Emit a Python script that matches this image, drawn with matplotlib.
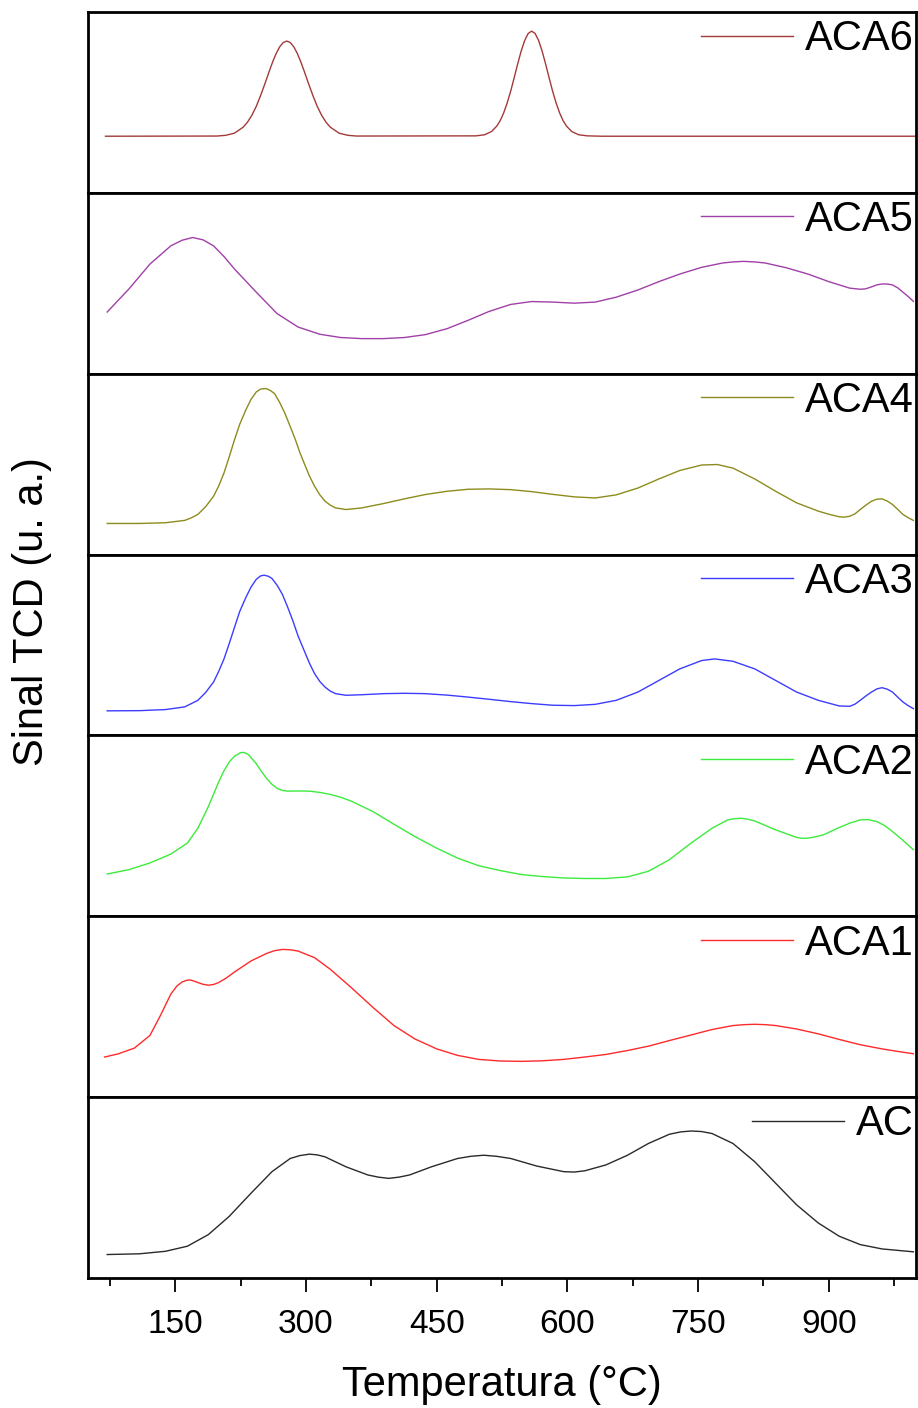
import matplotlib
matplotlib.use("Agg")
import matplotlib.pyplot as plt
from matplotlib.ticker import MultipleLocator

plt.rcParams['font.family'] = ['Liberation Sans', 'DejaVu Sans']

# TPR profiles (arbitrary units), one panel per sample, top to bottom
t_aca6 = [70, 198, 208, 218, 228, 233, 238, 243, 248, 253, 258, 262, 266, 270, 274, 278, 282, 286, 290, 294,
          298, 303, 308, 313, 318, 323, 328, 338, 348, 358,
          495, 505, 513, 519, 523, 527, 531, 535, 539, 543, 547, 551, 555, 559, 563, 567, 571, 575, 579, 583,
          587, 591, 595, 599, 605, 613, 623, 640, 1000]
s_aca6 = [31.3, 31.4, 31.8, 33.0, 36.3, 39.1, 42.9, 47.8, 53.8, 60.4, 67.3, 72.6, 77.2, 80.8, 83.1, 83.9, 83.1, 80.8, 77.2, 72.6,
          67.3, 60.4, 53.8, 47.8, 42.9, 39.1, 36.3, 33.0, 31.8, 31.4,
          31.5, 32.1, 33.9, 36.9, 40.0, 44.3, 49.8, 56.3, 63.7, 71.3, 78.4, 84.2, 88.1, 89.4, 88.1, 84.2, 78.4, 71.3, 63.7, 56.3,
          49.8, 44.3, 40.0, 36.9, 33.9, 32.1, 31.5, 31.3, 31.3]

t_aca5 = [72, 97, 121, 145, 158, 170, 182, 194, 206, 218, 243, 267, 291, 316, 340, 364, 389, 413, 437, 462,
          486, 510, 535, 559, 583, 608, 632, 656, 681, 705, 729, 754, 778, 790, 802, 815, 827, 851, 876, 900,
          924, 936, 942, 949, 955, 961, 967, 973, 979, 985, 991, 997]
s_aca5 = [34.1, 46.9, 60.6, 70.7, 73.8, 75.3, 74.0, 70.7, 64.8, 57.9, 45.1, 33.2, 25.8, 21.8, 20.0, 19.4, 19.4, 20.0, 21.6, 24.9,
          29.5, 34.4, 38.3, 39.9, 39.6, 39.0, 39.6, 42.3, 46.3, 50.9, 55.1, 58.8, 61.2, 61.8, 62.1, 61.8, 61.2, 58.6, 55.1, 50.9,
          47.3, 46.7, 46.9, 48.0, 49.1, 49.6, 49.6, 49.1, 47.5, 45.1, 42.7, 40.0]

t_aca4 = [72, 109, 139, 161, 168, 176, 185, 194, 200, 206, 212, 218, 224, 231, 237, 243, 248, 254, 259, 264,
          270, 276, 282, 288, 293, 298, 304, 310, 316, 322, 328, 334, 346, 364, 389, 413, 437, 462, 486, 510,
          535, 559, 583, 608, 632, 656, 681, 705, 729, 754, 772, 790, 815, 839, 863, 888, 900, 912, 918, 924,
          930, 936, 943, 949, 955, 961, 967, 973, 979, 985, 991, 997]
s_aca4 = [17.2, 17.2, 17.6, 18.9, 20.2, 22.2, 26.5, 32.2, 38.0, 45.1, 54.0, 63.4, 72.0, 79.9, 85.8, 89.9, 91.5, 91.8, 90.8, 89.0,
          84.0, 78.0, 70.8, 63.4, 56.5, 50.5, 43.5, 37.7, 33.0, 29.5, 27.3, 25.8, 24.9, 25.8, 28.2, 30.8, 33.2, 35.0, 36.1, 36.3,
          35.9, 34.8, 33.3, 31.9, 31.3, 33.0, 36.8, 41.8, 46.5, 49.5, 49.8, 47.8, 41.8, 35.0, 28.6, 24.0, 22.3, 20.9, 20.7, 21.2,
          22.5, 24.9, 27.5, 29.5, 30.6, 30.8, 29.6, 27.7, 25.0, 22.2, 20.4, 18.9]

t_aca3 = [72, 109, 139, 161, 176, 185, 194, 200, 206, 212, 218, 224, 231, 237, 243, 248, 252, 257, 261, 267,
          273, 279, 285, 291, 298, 304, 310, 316, 322, 328, 334, 346, 364, 389, 413, 437, 462, 486, 510, 535,
          559, 583, 608, 632, 656, 681, 705, 729, 754, 769, 790, 815, 839, 863, 888, 912, 924, 930, 936, 943,
          949, 955, 961, 967, 973, 979, 985, 991, 997]
s_aca3 = [13.6, 13.7, 14.3, 15.8, 19.4, 23.8, 29.5, 35.5, 42.3, 50.8, 59.7, 68.5, 76.2, 82.0, 86.3, 88.2, 88.6, 88.0, 86.8, 83.0,
          78.0, 71.0, 63.4, 55.0, 46.9, 40.0, 34.1, 29.8, 26.7, 24.5, 23.1, 22.2, 22.5, 23.1, 23.3, 23.1, 22.3, 21.2, 20.0, 18.7,
          17.6, 16.7, 16.5, 17.2, 19.4, 24.0, 30.4, 36.8, 41.4, 42.3, 41.0, 36.8, 30.4, 24.0, 19.4, 16.3, 16.1, 17.3, 19.4, 22.0,
          24.0, 25.7, 26.4, 25.6, 24.0, 21.2, 18.5, 16.5, 14.8]

t_aca2 = [72, 97, 121, 145, 164, 176, 188, 200, 206, 212, 218, 225, 229, 234, 238, 243, 249, 255, 261, 267,
          273, 279, 291, 304, 316, 328, 340, 352, 377, 401, 425, 450, 474, 498, 523, 547, 571, 596, 620, 644,
          669, 693, 717, 742, 766, 784, 792, 800, 807, 815, 839, 863, 870, 876, 885, 894, 912, 924, 936, 945,
          955, 964, 973, 985, 997]
s_aca2 = [23.4, 25.8, 29.5, 34.4, 40.5, 48.7, 60.6, 74.4, 80.5, 85.3, 88.5, 90.5, 90.6, 89.4, 87.2, 84.4, 80.0, 76.2, 73.0, 70.7,
          69.6, 69.2, 69.3, 69.2, 68.5, 67.4, 65.8, 63.7, 57.9, 50.9, 44.1, 37.7, 32.2, 28.0, 25.3, 23.1, 22.0, 21.2, 20.9, 20.9,
          21.8, 24.9, 31.3, 40.5, 48.7, 53.3, 54.0, 54.2, 53.7, 52.7, 47.8, 43.6, 43.1, 43.2, 44.0, 45.1, 49.1, 51.5, 53.3, 53.5,
          52.4, 50.2, 46.9, 42.0, 36.8]

t_aca1 = [69, 85, 103, 121, 133, 145, 152, 158, 163, 167, 171, 176, 182, 188, 194, 200, 209, 218, 237, 255,
          264, 273, 282, 291, 310, 328, 352, 377, 401, 425, 450, 474, 498, 523, 547, 571, 596, 620, 644, 669,
          693, 717, 742, 766, 790, 803, 815, 827, 839, 863, 888, 912, 936, 961, 979, 997]
s_aca1 = [22.2, 24.0, 27.1, 34.1, 45.1, 57.0, 61.5, 63.7, 64.6, 64.8, 64.3, 63.4, 62.4, 61.9, 62.3, 63.4, 66.0, 69.2, 75.3, 79.5,
          81.0, 81.7, 81.5, 80.8, 77.1, 70.7, 60.6, 49.6, 39.6, 32.2, 26.7, 23.1, 20.9, 20.0, 19.8, 20.1, 20.9, 22.2, 23.6, 25.8,
          28.2, 31.3, 34.4, 37.4, 39.6, 40.1, 40.3, 40.1, 39.6, 37.7, 35.0, 31.9, 29.0, 26.7, 25.3, 24.0]

t_ac = [72, 109, 139, 164, 188, 212, 237, 261, 282, 293, 304, 313, 322, 346, 371, 383, 395, 407, 419, 444,
        474, 489, 504, 519, 535, 565, 596, 608, 620, 644, 669, 693, 717, 730, 742, 754, 766, 790, 815, 839,
        863, 888, 912, 936, 961, 997]
s_ac = [13.0, 13.4, 14.8, 17.6, 24.0, 34.1, 46.9, 58.8, 66.1, 67.7, 68.5, 68.1, 67.0, 61.5, 57.0, 55.8, 55.1, 55.8, 57.0, 61.5,
        66.1, 67.3, 67.9, 67.3, 66.1, 61.9, 58.8, 58.6, 59.3, 62.5, 67.9, 74.4, 79.5, 80.8, 81.3, 81.0, 79.9, 74.4, 64.3, 52.4,
        40.5, 30.4, 23.1, 18.5, 16.1, 14.5]

labels = ['ACA6', 'ACA5', 'ACA4', 'ACA3', 'ACA2', 'ACA1', 'AC']
colors = ['#A33A3A', '#A040A8', '#8C8C1E', '#3C3CFF', '#3CEB3C', '#FF2A2A', '#2A2A2A']
temps = [t_aca6, t_aca5, t_aca4, t_aca3, t_aca2, t_aca1, t_ac]
signals = [s_aca6, s_aca5, s_aca4, s_aca3, s_aca2, s_aca1, s_ac]

fig, axes = plt.subplots(7, 1, figsize=(9.18, 14.08), dpi=100, sharex=True)
fig.subplots_adjust(left=0.0959, right=0.9978, top=0.9915, bottom=0.0923, hspace=0)

for ax, t, s, lab, c in zip(axes, temps, signals, labels, colors):
    ax.plot(t, s, color=c, lw=1.0, label=lab)
    ax.set_ylim(0, 100)
    ax.set_yticks([])
    for sp in ax.spines.values():
        sp.set_linewidth(2.0)
    ax.tick_params(axis='x', which='both', bottom=False, labelbottom=False)
    ax.legend(loc='upper right', bbox_to_anchor=(1.0025, 0.983), frameon=False, fontsize=30,
              borderaxespad=0.0, borderpad=0.1, handlelength=2.2, handletextpad=0.3)

ax = axes[-1]
ax.set_xlim(50, 1000)
ax.xaxis.set_major_locator(MultipleLocator(150))
ax.xaxis.set_minor_locator(MultipleLocator(75))
ax.set_xticks([150, 300, 450, 600, 750, 900])
ax.tick_params(axis='x', which='major', bottom=True, labelbottom=True, direction='out',
               length=10, width=1.3, labelsize=24, pad=12.5)
ax.tick_params(axis='x', which='minor', bottom=True, direction='out', length=5.5, width=1.3)

fig.text(0.5468, 1 - 1385 / 1408, 'Temperatura (°C)', ha='center', va='center', fontsize=30)
fig.text(32 / 918, 1 - 612 / 1408, 'Sinal TCD (u. a.)', ha='center', va='center', rotation=90, fontsize=30)

fig.savefig('out.png', dpi=100)
